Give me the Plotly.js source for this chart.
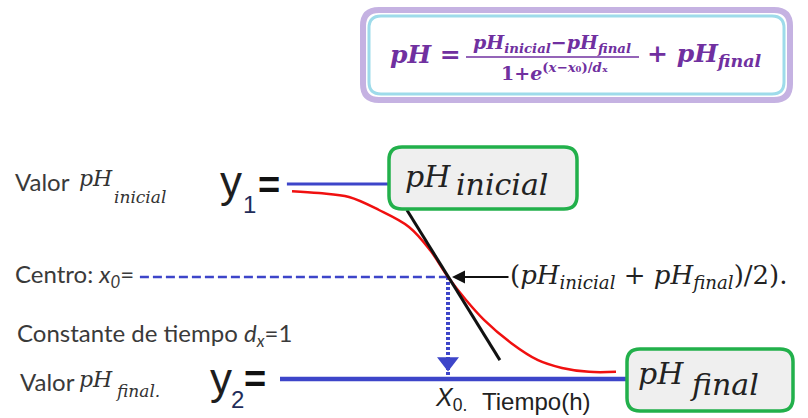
<!DOCTYPE html>
<html>
<head>
<meta charset="utf-8">
<script src="https://cdn.plot.ly/plotly-3.0.1.min.js"></script>
<style>
  html, body { margin: 0; padding: 0; background: #ffffff; }
  #chart { width: 808px; height: 418px; }
</style>
</head>
<body>
<div id="chart"></div>
<script>
// values: time in hours, pH units
const curveTime = [-0.2, 0.7, 1.7, 2.7, 3.7, 4.4, 5.0, 5.6, 6.2, 7.1, 8.0, 8.8, 9.7, 10.6];
const curvePH = [7.78, 7.72, 7.6, 7.2, 6.68, 5.97, 5.14, 4.43, 3.82, 3.11, 2.58, 2.34, 2.22, 2.22];
const tangentTime = [3.63, 6.73];
const tangentPH = [7.2, 2.58];
const pHInicial = 8.0;
const pHFinal = 2.0;
const pHCentro = 5.14;
const x0 = 5;
const inicialLineTime = [-0.37, 3.07];
const finalLineTime = [-0.6, 10.97];
const centroLineTime = [-5.27, 5];

(function () {
  const W = 808;
  const H = 418;
  const blue = "#3d45c9";
  const purple = "#7030a0";
  const serif = "DejaVu Serif, serif";
  const sans = "Lato, sans-serif";
  const arial = "Liberation Sans, Arial, sans-serif";

  // page scale: x0 sits at 448px, pH final at 379px
  const pxPerHour = 30;
  const pxPerPH = 32.5;
  const xRange = [x0 - 448 / pxPerHour, x0 + (W - 448) / pxPerHour];
  const yRange = [pHFinal - (H - 379) / pxPerPH, pHFinal + 379 / pxPerPH];

  const X = (v) => v / W;
  const Y = (v) => 1 - v / H;

  function roundRect(x1, y1, x2, y2, r) {
    return "M" + X(x1 + r) + "," + Y(y1) +
      " L" + X(x2 - r) + "," + Y(y1) +
      " Q" + X(x2) + "," + Y(y1) + " " + X(x2) + "," + Y(y1 + r) +
      " L" + X(x2) + "," + Y(y2 - r) +
      " Q" + X(x2) + "," + Y(y2) + " " + X(x2 - r) + "," + Y(y2) +
      " L" + X(x1 + r) + "," + Y(y2) +
      " Q" + X(x1) + "," + Y(y2) + " " + X(x1) + "," + Y(y2 - r) +
      " L" + X(x1) + "," + Y(y1 + r) +
      " Q" + X(x1) + "," + Y(y1) + " " + X(x1 + r) + "," + Y(y1) + " Z";
  }

  function label(text, x, y, font, extra) {
    return Object.assign({
      text: text,
      x: X(x),
      y: Y(y),
      xref: "paper",
      yref: "paper",
      xanchor: "left",
      yanchor: "middle",
      showarrow: false,
      font: font
    }, extra || {});
  }

  const traces = [
    {
      x: centroLineTime,
      y: [pHCentro, pHCentro],
      mode: "lines",
      line: { color: blue, width: 2.5, dash: "9px,4px" }
    },
    {
      x: [x0, x0],
      y: [pHCentro, pHFinal],
      mode: "lines",
      line: { color: blue, width: 4, dash: "3px,2px" }
    },
    {
      x: [x0],
      y: [pHFinal + 0.52],
      mode: "markers",
      marker: { symbol: "triangle-down", size: 19, color: blue }
    },
    {
      x: inicialLineTime,
      y: [pHInicial, pHInicial],
      mode: "lines",
      line: { color: blue, width: 3 }
    },
    {
      x: finalLineTime,
      y: [pHFinal, pHFinal],
      mode: "lines",
      line: { color: blue, width: 4.5 }
    },
    {
      x: curveTime,
      y: curvePH,
      mode: "lines",
      line: { color: "#f01010", width: 2.5, shape: "spline" }
    },
    {
      x: tangentTime,
      y: tangentPH,
      mode: "lines",
      line: { color: "#111111", width: 3 }
    }
  ];
  traces.forEach((t) => { t.type = "scatter"; t.hoverinfo = "skip"; });

  const shapes = [
    { type: "path", xref: "paper", yref: "paper", path: roundRect(363, 10, 790, 100, 16),
      line: { color: "#c5b2e2", width: 6 }, fillcolor: "#ffffff" },
    { type: "path", xref: "paper", yref: "paper", path: roundRect(369, 16, 784, 94, 12),
      line: { color: "#9edbea", width: 3 } },
    { type: "line", xref: "paper", yref: "paper", x0: X(466), x1: X(639), y0: Y(57), y1: Y(57),
      line: { color: purple, width: 1.5 } },
    { type: "path", xref: "paper", yref: "paper", path: roundRect(389, 147, 577, 209, 13),
      line: { color: "#22b04b", width: 3.5 }, fillcolor: "#efefef" },
    { type: "path", xref: "paper", yref: "paper", path: roundRect(627, 349, 793, 411, 13),
      line: { color: "#22b04b", width: 3.5 }, fillcolor: "#efefef" }
  ];

  const fSerifBig = { family: serif, size: 30, color: "#222222" };
  const fSerifLbl = { family: serif, size: 22, color: "#333333" };
  const fSerifSub = { family: serif, size: 17, color: "#333333" };
  const fSans = { family: sans, size: 24, color: "#3a3a3a" };
  const fY = { family: arial, size: 44, color: "#1e1e1e" };
  const fYSub = { family: arial, size: 24, color: "#1f2d5a" };
  const fEq = { family: arial, size: 38, color: "#111111" };
  const fFormula = { family: serif, size: 25, color: purple };
  const fFormulaSmall = { family: serif, size: 19, color: purple };

  const annotations = [
    // formula
    label("<b><i>pH</i> =</b>", 388, 55, fFormula),
    label("<b><i>pH<sub>inicial</sub></i>−<i>pH<sub>final</sub></i></b>", 552, 43, fFormulaSmall, { xanchor: "center" }),
    label("<b>1+<i>e</i><sup>(<i>x</i>−<i>x</i>₀)/<i>d</i>ₓ</sup></b>", 554, 72, fFormulaSmall, { xanchor: "center" }),
    label("<b>+ <i>pH<sub>final</sub></i></b>", 645, 55, fFormula),

    // left side labels
    label("Valor", 13, 182, fSans),
    label("<i>pH</i>", 77, 179, fSerifLbl),
    label("<i>inicial</i>", 112, 197, fSerifSub),
    label("y", 218, 181, fY),
    label("1", 241, 204, fYSub),
    label("<b>=</b>", 256, 185, fEq),

    label("Centro: <i>x<sub>0</sub></i>=", 13, 275, fSans),
    label("Constante de tiempo <i>d<sub>x</sub></i>=1", 15, 334, fSans),

    label("Valor", 18, 381, fSans),
    label("<i>pH</i>", 77, 379, fSerifLbl),
    label("<i>final.</i>", 113, 391, fSerifSub),
    label("y", 208, 378, fY),
    label("2", 229, 399, fYSub),
    label("<b>=</b>", 242, 379, fEq),

    // boxes
    label("<i>pH</i>", 403, 176, fSerifBig),
    label("<i>inicial</i>", 454, 184, fSerifBig),
    label("<i>pH</i>", 636, 373, fSerifBig),
    label("<i>final</i>", 688, 384, fSerifBig),

    // midpoint label and arrow
    label("(<i>pH<sub>inicial</sub></i> + <i>pH<sub>final</sub></i>)/2).", 508, 276, { family: serif, size: 26, color: "#222222" }),
    {
      x: X(452), y: Y(277), xref: "paper", yref: "paper",
      ax: 58, ay: 0, text: "", showarrow: true,
      arrowhead: 2, arrowsize: 1.3, arrowwidth: 2, arrowcolor: "#111111"
    },

    // time axis label
    label("<i>X</i><sub>0.</sub>", 433, 399, { family: arial, size: 25, color: "#222222" }),
    label("Tiempo(h)", 480, 401, { family: arial, size: 24, color: "#222222" })
  ];

  const layout = {
    width: W,
    height: H,
    margin: { l: 0, r: 0, t: 0, b: 0 },
    paper_bgcolor: "#ffffff",
    plot_bgcolor: "#ffffff",
    showlegend: false,
    xaxis: { range: xRange, visible: false, fixedrange: true },
    yaxis: { range: yRange, visible: false, fixedrange: true },
    shapes: shapes,
    annotations: annotations
  };

  Plotly.newPlot("chart", traces, layout, { displayModeBar: false, staticPlot: true });
})();
</script>
</body>
</html>
